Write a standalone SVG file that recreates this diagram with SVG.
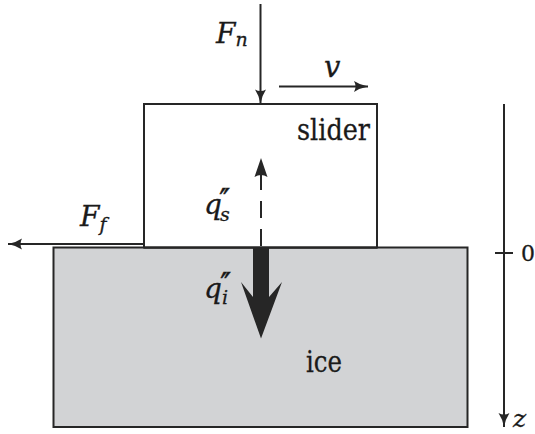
<svg xmlns="http://www.w3.org/2000/svg" width="535" height="434" viewBox="0 0 535 434">
<style>
.box{stroke:#262626;stroke-width:2;}
.ln{stroke:#262626;stroke-width:2;fill:none;}
text{font-family:'DejaVu Serif',serif;fill:#1a1a1a;stroke:#1a1a1a;stroke-width:0.3;}
.m{font-style:italic;}
.p{font-style:normal;font-size:34px;letter-spacing:-4px;}
</style>
<defs>
<marker id="ah" viewBox="0 -6 14 12" refX="14" refY="0" markerWidth="15" markerHeight="12" orient="auto" markerUnits="userSpaceOnUse">
<path d="M0,-5.5 Q6,-1.5 14,0 Q6,1.5 0,5.5 Q3,0 0,-5.5 Z" fill="#262626"/>
</marker>
</defs>
<rect width="535" height="434" fill="#ffffff"/>
<g id="ice">
<rect class="box" x="53.5" y="247.5" width="414" height="179.5" fill="#d2d3d5"/>
<text x="306" y="372" font-size="30" textLength="36" lengthAdjust="spacingAndGlyphs">ice</text>
</g>
<g id="slider">
<rect class="box" x="144" y="104" width="233" height="143.5" fill="#ffffff"/>
<line class="ln" x1="144" y1="247.5" x2="377" y2="247.5" stroke-width="3"/>
<text x="297" y="140" font-size="30" textLength="73" lengthAdjust="spacingAndGlyphs">slider</text>
</g>
<g id="connectors">
<line class="ln" x1="260.5" y1="4" x2="260.5" y2="103.5" marker-end="url(#ah)"/>
<line class="ln" x1="279" y1="86.5" x2="368" y2="86.5" marker-end="url(#ah)"/>
<line class="ln" x1="144" y1="244" x2="8" y2="244" marker-end="url(#ah)"/>
<line class="ln" x1="504" y1="104" x2="504" y2="427" marker-end="url(#ah)"/>
<line class="ln" x1="495" y1="253" x2="513" y2="253"/>
<line class="ln" x1="261" y1="246" x2="261" y2="172" stroke-width="3" stroke-dasharray="17 11"/>
<path d="M261,158 L254.5,177 Q261,173 267.5,177 Z" fill="#262626"/>
<path d="M253,248 L269,248 L269,297 L282,282 L261,338.5 L241,282 L253,297 Z" fill="#262626"/>
</g>
<g id="labels">
<text class="m" x="216" y="43" font-size="28">F<tspan font-size="19" dy="3">n</tspan></text>
<text class="m" x="324" y="77" font-size="29">v</text>
<text class="m" x="80" y="226" font-size="28">F<tspan font-size="19" dy="5">f</tspan></text>
<text class="m" x="204" y="214" font-size="28">q<tspan class="p" x="219" y="213">′′</tspan><tspan font-size="19" x="220" y="221">s</tspan></text>
<text class="m" x="204" y="298" font-size="28">q<tspan class="p" x="220" y="297">′′</tspan><tspan font-size="19" x="222" y="304">i</tspan></text>
<text x="521" y="261" font-size="22">0</text>
<text class="m" x="513" y="427" font-size="25">z</text>
</g>
</svg>
